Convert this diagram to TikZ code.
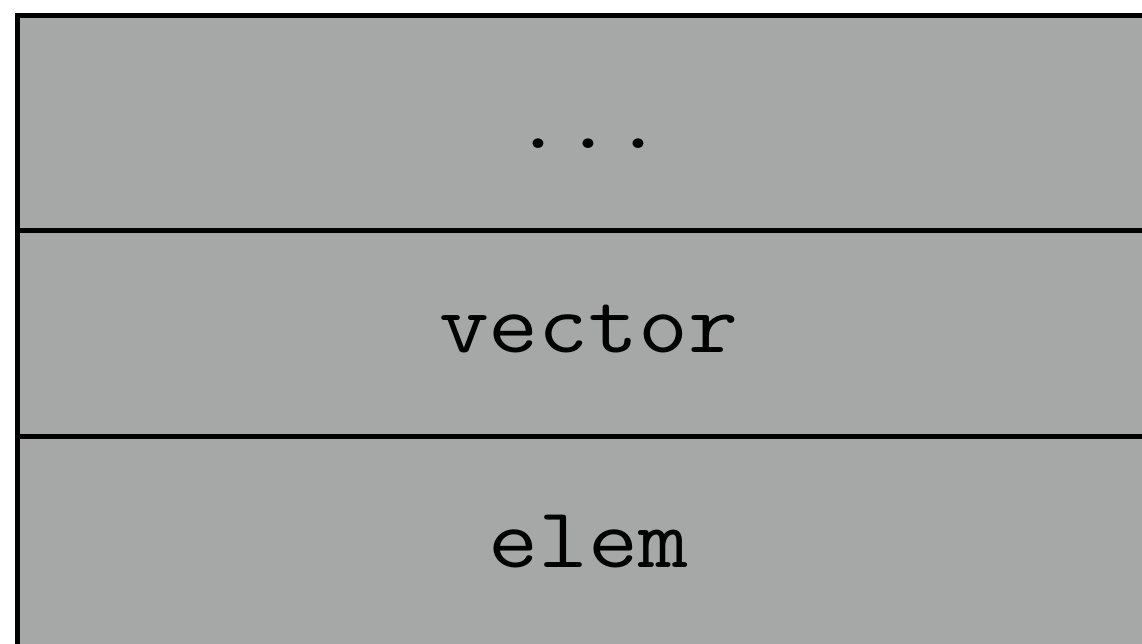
\documentclass[tikz,border=0pt]{standalone}
\usepackage{fontspec}
\setmonofont[FakeStretch=1.13]{Latin Modern Mono}
\definecolor{cellgray}{RGB}{165, 168, 166}
\usepackage{tikz}
\usetikzlibrary{positioning}

\tikzset{
  cell/.style={draw=black, fill=cellgray, line width=0.1cm, rectangle, inner sep=0pt, outer sep=0pt,
    minimum width=22.85cm, font=\fontsize{48.8}{58}\selectfont\ttfamily, text depth=0pt}
}

\begin{document}
\begin{tikzpicture}
  \useasboundingbox (0, 0) rectangle (22.84, 12.86);
  \clip (0, 0) rectangle (22.84, 12.86);

  % Stack cells
  \node[cell, anchor=north west, minimum height=4.3cm, text height=1.0cm] (dots) at (0.35, 12.55) {...};
  \node[cell, below=0pt of dots, minimum height=4.12cm, text height=0.74cm] (vector) {vector};
  \node[cell, below=0pt of vector, minimum height=4.3cm, text height=0.92cm] (elem) {elem};
\end{tikzpicture}
\end{document}
